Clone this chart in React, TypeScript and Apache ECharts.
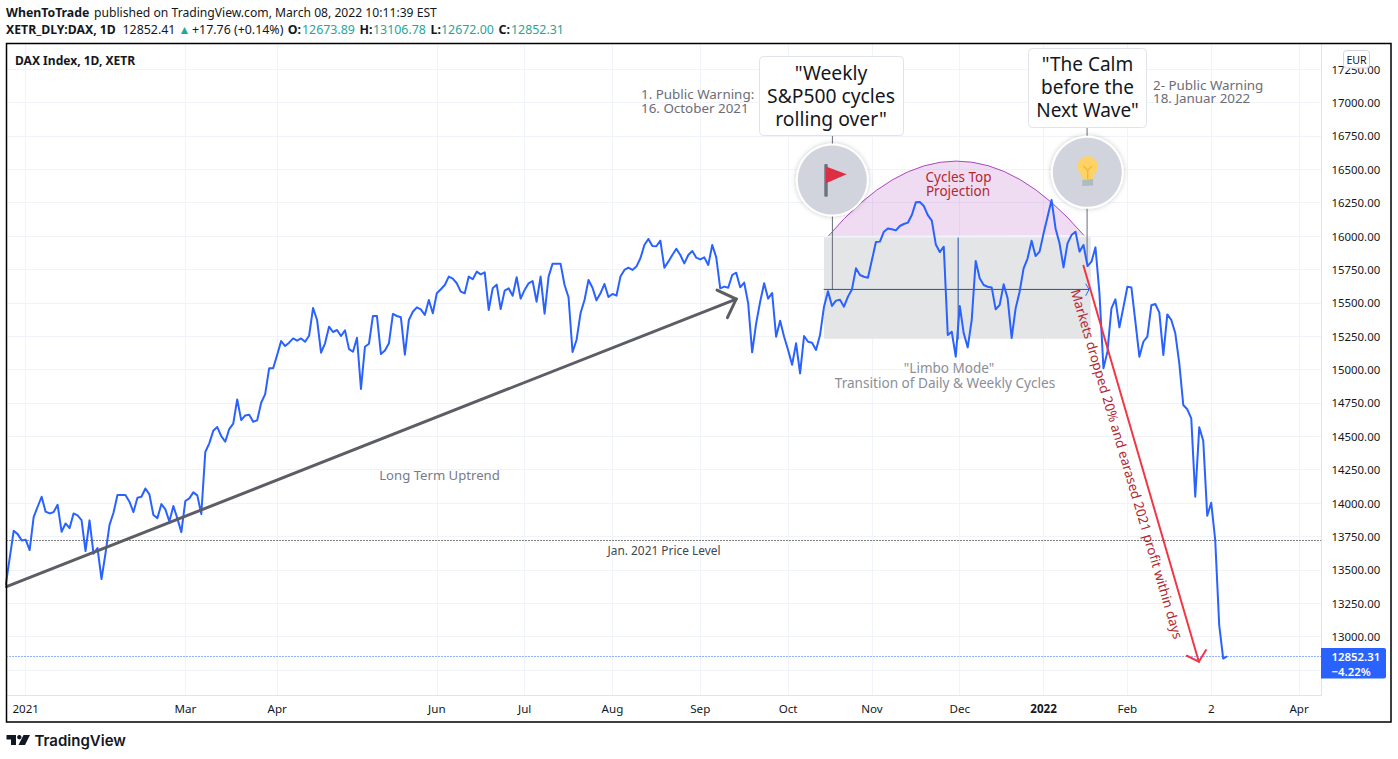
import React, { useEffect, useRef } from "react";
import * as echarts from "echarts";

// Daily closes of the DAX, one per trading bar.
const closes = [
  13383,13588,13792,13767,13720,13725,13648,13895,13972,14047,
  13935,13922,13932,13987,13785,13847,13812,13922,13907,13872,
  13640,13870,13620,13662,13430,13623,13835,13927,14060,14060,
  14060,14010,13932,14040,14047,14109,14065,13910,13887,13992,
  13952,13862,13977,13885,13782,14015,14035,14080,14057,13917,
  14382,14447,14541,14569,14501,14459,14554,14594,14776,14621,
  14656,14661,14609,14619,14751,14816,15009,15009,15109,15213,
  15176,15201,15233,15216,15233,15208,15253,15461,15371,15126,
  15196,15321,15281,15296,15251,15293,15153,15133,15238,14854,
  15171,15193,15401,15401,15116,15143,15196,15416,15401,15391,
  15111,15371,15433,15466,15451,15408,15521,15421,15571,15601,
  15633,15696,15681,15646,15583,15571,15696,15676,15733,15713,
  15728,15446,15608,15636,15453,15591,15608,15553,15691,15531,
  15596,15646,15663,15508,15696,15418,15696,15793,15793,15793,
  15633,15541,15131,15221,15421,15521,15671,15613,15518,15571,
  15641,15543,15566,15553,15696,15746,15763,15746,15771,15833,
  15933,15978,15925,15923,15965,15763,15808,15858,15905,15858,
  15795,15858,15888,15838,15825,15840,15783,15933,15840,15608,
  15621,15613,15708,15725,15616,15651,15496,15129,15346,15508,
  15646,15531,15573,15246,15366,15246,15146,15036,15196,14971,
  15251,15208,15201,15146,15258,15471,15586,15476,15516,15523,
  15471,15546,15600,15758,15708,15695,15688,15820,15955,15958,
  16032,16057,16050,16042,16075,16090,16100,16157,16252,16255,
  16225,16157,16115,15937,15880,15920,15258,15283,15096,15476,
  15271,15166,15371,15813,15683,15633,15620,15615,15451,15483,
  15638,15533,15236,15458,15583,15758,15833,15965,15850,15883,
  16020,16145,16270,16057,15945,15765,15945,16007,16032,15883,
  15933,15775,15808,15915,15571,15009,15134,15458,15526,15316,
  15466,15620,15615,15358,15096,15208,15246,15481,15491,15426,
  15109,15413,15371,15271,15046,14734,14702,14634,14047,14567,
  14467,13905,14002,13723,13086,12835,12852.31,
];

const xTickBars = [5, 45, 68, 108, 130, 152, 174, 196, 217, 239, 260, 281, 302, 324];
const xTickLabels = ["2021", "Mar", "Apr", "Jun", "Jul", "Aug", "Sep", "Oct", "Nov", "Dec", "2022", "Feb", "2", "Apr"];
const yGridTicks = [12750, 13000, 13250, 13500, 13750, 14000, 14250, 14500, 14750, 15000, 15250, 15500, 15750, 16000, 16250, 16500, 16750, 17000, 17250];
const yLabelTicks = yGridTicks.filter((v) => v >= 13000);

const lastPrice = 12852.31;
const jan2021Level = 13719.2;

// Drawn studies, in [bar, price].
const uptrendLine = [[0.2, 13373], [183.0, 15528]];
const uptrendHead = [[178.2, 15595], [183.0, 15528], [180.8, 15388]];
const dropLine = [[270.0, 15777], [298.9, 12811]];
const dropHead = [[295.9, 12856], [298.9, 12811], [300.7, 12899]];
const flagStem = [[207.1, 16751], [207.1, 15600]];
const bulbStem = [[270.9, 16814], [270.9, 15797]];
const rangeHorizontal = [[205, 15600], [271.4, 15600]];
const rangeVertical = [[238.6, 15985], [238.6, 15228]];
const rangeArrow = [[270.6, 15640], [271.4, 15600], [270.6, 15555]];
const limboBox = [[205, 15990], [271.8, 15230]];
const topArc = [[206.1, 16000, 238.1, 17120, 270.1, 16005]];

const UI_FONT = '"Noto Sans", sans-serif';

function label(text: string, x: number, y: number, size: number, fill: string, extra: any = {}) {
  const { align, weight, family, rotation } = extra;
  return {
    type: "text",
    x,
    y,
    rotation: rotation || 0,
    z: 50,
    silent: true,
    style: {
      text,
      fontSize: size,
      fontFamily: family || UI_FONT,
      fontWeight: weight || "normal",
      fill,
      align: align || "left",
      verticalAlign: "middle",
    },
  };
}

function drawn(name: string, data: number[][], color: string, width: number, z: number) {
  return {
    name,
    type: "line",
    data,
    z,
    symbol: "none",
    silent: true,
    lineStyle: { color, width, cap: "round", join: "miter" },
    clip: true,
  };
}

function buildGraphics() {
  const dark = "#131722";
  const green = "#26a69a";
  const grey = "#6a6d78";
  const red = "#b22833";
  const items: any[] = [
    // Header rows
    label("WhenToTrade", 6, 12.5, 12.3, dark, { weight: "bold" }),
    label("published on TradingView.com, March 08, 2022 10:11:39 EST", 94, 12.5, 12.15, dark),
    label("XETR_DLY:DAX, 1D", 6, 29.5, 12.25, dark, { weight: "bold" }),
    label("12852.41", 122.5, 29.5, 12.4, dark),
    label("▲", 178.5, 29.5, 12, green),
    label("+17.76 (+0.14%)", 192, 29.5, 12.4, dark),
    label("O:", 287.8, 29.5, 12.4, dark, { weight: "bold" }),
    label("12673.89", 302, 29.5, 12.4, green),
    label("H:", 359.5, 29.5, 12.4, dark, { weight: "bold" }),
    label("13106.78", 373, 29.5, 12.4, green),
    label("L:", 430.5, 29.5, 12.4, dark, { weight: "bold" }),
    label("12672.00", 441, 29.5, 12.4, green),
    label("C:", 498.5, 29.5, 12.4, dark, { weight: "bold" }),
    label("12852.31", 511, 29.5, 12.4, green),
    label("DAX Index, 1D, XETR", 15, 60.5, 12.05, dark, { weight: "bold" }),

    // Chart frame
    { type: "rect", z: 40, silent: true, shape: { x: 6.5, y: 43.5, width: 1384.5, height: 678.5 }, style: { fill: "none", stroke: "#000", lineWidth: 1.5 } },

    // EUR badge
    { type: "rect", z: 45, silent: true, shape: { x: 1343.5, y: 50.5, width: 26, height: 17.5, r: 3 }, style: { fill: "#fff", stroke: "#d1d4dc", lineWidth: 1 } },
    label("EUR", 1356.5, 59.5, 10.6, dark, { align: "center" }),

    // Last price tag
    { type: "rect", z: 45, silent: true, shape: { x: 1321, y: 648, width: 65, height: 30.5, r: [0, 2, 2, 0] }, style: { fill: "#2962ff" } },
    label("12852.31", 1331.5, 656.5, 11.4, "#fff", { weight: 600 }),
    label("−4.22%", 1331.5, 671, 11.4, "#fff", { weight: 600 }),

    // Note texts
    label("1. Public Warning:", 641, 94, 13.4, grey),
    label("16. October 2021", 641, 108, 13.4, grey),
    label("2- Public Warning", 1153, 84.5, 13.4, grey),
    label("18. Januar 2022", 1153, 98, 13.4, grey),
    label("Cycles Top", 958.5, 176.5, 13.5, red, { align: "center" }),
    label("Projection", 958, 190.5, 13.5, red, { align: "center" }),
    label('"Limbo Mode"', 949, 368, 13.5, "#8b8e98", { align: "center" }),
    label("Transition of Daily & Weekly Cycles", 945, 382, 13.6, "#8b8e98", { align: "center" }),
    label("Long Term Uptrend", 439.5, 474.5, 13.15, "#787b86", { align: "center" }),
    label("Jan. 2021 Price Level", 664, 549.5, 11.9, "#434651", { align: "center" }),
    label("Markets dropped 20% and earased 2021 profit within days", 1127, 464, 13.3, red, { align: "center", rotation: -1.283 }),

    // Callout boxes
    { type: "rect", z: 45, silent: true, shape: { x: 759.5, y: 56.5, width: 144, height: 79, r: 4 }, style: { fill: "#fff", stroke: "#e0e3eb", lineWidth: 1 } },
    label('"Weekly', 831, 72.7, 19.3, dark, { align: "center" }),
    label("S&P500 cycles", 831, 95.7, 19.3, dark, { align: "center" }),
    label('rolling over"', 831, 118.7, 19.3, dark, { align: "center" }),
    { type: "rect", z: 45, silent: true, shape: { x: 1028.5, y: 48.5, width: 118, height: 79, r: 4 }, style: { fill: "#fff", stroke: "#e0e3eb", lineWidth: 1 } },
    label('"The Calm', 1087.5, 64.2, 19, dark, { align: "center" }),
    label("before the", 1087.5, 87.2, 19, dark, { align: "center" }),
    label('Next Wave"', 1087.5, 110.2, 19, dark, { align: "center" }),

    // Flag icon
    { type: "circle", z: 45, silent: true, shape: { cx: 832.3, cy: 180, r: 35.5 }, style: { fill: "#d1d4dc", stroke: "#fff", lineWidth: 2, shadowBlur: 5, shadowColor: "rgba(0,0,0,0.22)" } },
    { type: "rect", z: 46, silent: true, shape: { x: 824.3, y: 164, width: 3.4, height: 32.7, r: 1 }, style: { fill: "#66757f" } },
    { type: "polygon", z: 47, silent: true, shape: { points: [[826, 166.5], [846.7, 174.3], [826, 183.3]] }, style: { fill: "#dd2e44" } },

    // Bulb icon
    { type: "circle", z: 45, silent: true, shape: { cx: 1087.3, cy: 172.3, r: 35.5 }, style: { fill: "#d1d4dc", stroke: "#fff", lineWidth: 2, shadowBlur: 5, shadowColor: "rgba(0,0,0,0.22)" } },
    { type: "circle", z: 46, silent: true, shape: { cx: 1087.7, cy: 166.5, r: 10.3 }, style: { fill: "#ffd266" } },
    { type: "polygon", z: 46, silent: true, shape: { points: [[1082, 172], [1093.5, 172], [1093, 180], [1082.5, 180]] }, style: { fill: "#ffd266" } },
    { type: "polyline", z: 47, silent: true, shape: { points: [[1083.5, 166], [1087.7, 170.5], [1092, 166]] }, style: { fill: "none", stroke: "#f5b52e", lineWidth: 1.2 } },
    { type: "line", z: 47, silent: true, shape: { x1: 1087.7, y1: 170.5, x2: 1087.7, y2: 179 }, style: { stroke: "#f5b52e", lineWidth: 1.2 } },
    { type: "polygon", z: 47, silent: true, shape: { points: [[1082.3, 180], [1093, 179], [1093, 185.5], [1082.3, 186]] }, style: { fill: "#aebcc2" } },

    // TradingView mark
    { type: "polygon", z: 50, silent: true, shape: { points: [[6.5, 735], [16, 735], [16, 745], [11, 745], [11, 739.5], [6.5, 739.5]] }, style: { fill: dark } },
    { type: "circle", z: 50, silent: true, shape: { cx: 19.3, cy: 737.2, r: 2.2 }, style: { fill: dark } },
    { type: "polygon", z: 50, silent: true, shape: { points: [[23.5, 735], [30, 735], [25, 745], [18.5, 745]] }, style: { fill: dark } },
    label("TradingView", 34.5, 740.5, 15, dark, { weight: 600, family: "Inter, sans-serif" }),
  ];
  return items;
}

function renderArc(_params: any, api: any) {
  const a = api.coord([api.value(0), api.value(1)]);
  const c = api.coord([api.value(2), api.value(3)]);
  const b = api.coord([api.value(4), api.value(5)]);
  return {
    type: "bezierCurve",
    shape: { x1: a[0], y1: a[1], cpx1: c[0], cpy1: c[1], x2: b[0], y2: b[1] },
    style: { fill: "rgba(156,39,176,0.16)", stroke: "#ab47bc", lineWidth: 1 },
  };
}

export default function App() {
  const ref = useRef<HTMLDivElement>(null);

  useEffect(() => {
    if (!ref.current) return;
    const chart = echarts.init(ref.current, undefined, { renderer: "svg" });
    const labelFor = (v: number) => xTickLabels[xTickBars.indexOf(v)] ?? "";
    chart.setOption({
      animation: false,
      backgroundColor: "#fff",
      textStyle: { fontFamily: UI_FONT },
      grid: { left: 6.5, right: 77, top: 43.5, bottom: 64, containLabel: false },
      xAxis: {
        type: "value",
        min: 0.2,
        max: 329.5,
        axisLine: { show: true, onZero: false, lineStyle: { color: "#e0e3eb", width: 1 } },
        axisTick: { show: false, customValues: xTickBars },
        splitLine: { show: true, lineStyle: { color: "#f0f3fa", width: 1 } },
        axisLabel: {
          customValues: xTickBars,
          color: "#131722",
          fontSize: 11.6,
          fontFamily: UI_FONT,
          margin: 7,
          hideOverlap: false,
          showMinLabel: true,
          showMaxLabel: true,
          formatter: (v: number) => {
            const t = labelFor(v);
            return t === "2022" ? `{b|${t}}` : t;
          },
          rich: { b: { fontWeight: "bold", fontSize: 11.6, color: "#131722", fontFamily: UI_FONT } },
        },
      },
      yAxis: {
        type: "value",
        position: "right",
        min: 12562,
        max: 17442,
        axisLine: { show: true, onZero: false, lineStyle: { color: "#e0e3eb", width: 1 } },
        axisTick: { show: false, customValues: yGridTicks },
        splitLine: { show: true, lineStyle: { color: "#f0f3fa", width: 1 } },
        axisLabel: {
          customValues: yLabelTicks,
          color: "#131722",
          fontSize: 11.4,
          fontFamily: UI_FONT,
          margin: 10.5,
          formatter: (v: number) => v.toFixed(2),
        },
      },
      series: [
        {
          name: "Limbo range",
          type: "line",
          data: [],
          z: 2,
          markArea: {
            silent: true,
            itemStyle: { color: "#e4e5e7" },
            data: [[{ coord: limboBox[0] }, { coord: limboBox[1] }]],
          },
        },
        {
          name: "Cycles top",
          type: "custom",
          data: topArc,
          z: 3,
          silent: true,
          clip: true,
          renderItem: renderArc,
        },
        drawn("Flag stem", flagStem, "#6a6d78", 1, 4),
        drawn("Bulb stem", bulbStem, "#6a6d78", 1, 4),
        drawn("Range horizontal", rangeHorizontal, "#1f4fb5", 1, 5),
        drawn("Range vertical", rangeVertical, "#1f4fb5", 1, 5),
        drawn("Range arrow", rangeArrow, "#2962ff", 1, 5),
        {
          name: "DAX Index",
          type: "line",
          data: closes.map((v, i) => [i, v]),
          z: 10,
          symbol: "none",
          silent: true,
          clip: true,
          lineStyle: { color: "#2962ff", width: 2, join: "round" },
          markLine: {
            silent: true,
            symbol: "none",
            label: { show: false },
            data: [
              { yAxis: jan2021Level, lineStyle: { color: "#000", width: 1, type: [1, 2] } },
              { yAxis: lastPrice, lineStyle: { color: "#2962ff", width: 1, type: [1, 2] } },
            ],
          },
        },
        drawn("Uptrend", uptrendLine, "#5d5d66", 3, 12),
        drawn("Uptrend head", uptrendHead, "#5d5d66", 3, 12),
        drawn("Drop", dropLine, "#f23645", 2, 12),
        drawn("Drop head", dropHead, "#f23645", 2, 12),
      ],
      graphic: { elements: buildGraphics() },
    });
    return () => chart.dispose();
  }, []);

  return (
    <div
      ref={ref}
      style={{ position: "absolute", left: 0, top: 0, width: 1398, height: 759, background: "#fff" }}
    />
  );
}
